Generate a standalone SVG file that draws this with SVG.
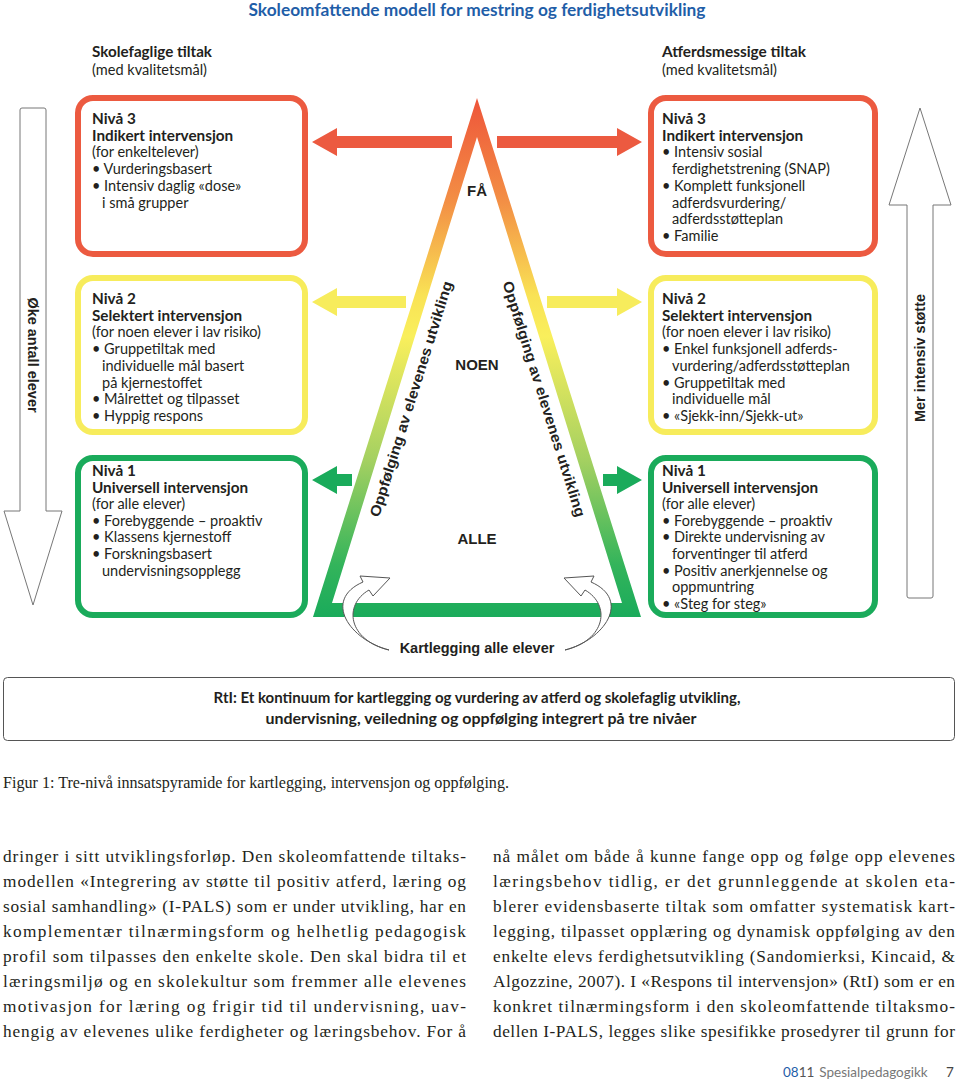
<svg xmlns="http://www.w3.org/2000/svg" width="960" height="1081" viewBox="0 0 960 1081">
<style>
.bx{font-family:Lato,"Open Sans",sans-serif;font-size:14.5px;fill:#231f20}
.b{font-weight:700;font-size:15.3px}
.hd{font-family:Lato,sans-serif;font-weight:700;fill:#231f20}
.lb{font-family:"Liberation Sans",Arial,sans-serif;font-weight:700;fill:#231f20}
.body{font-family:"Liberation Serif","Times New Roman",serif;font-size:17.3px;fill:#231f20}
.red{fill:none;stroke:#ec5a40;stroke-width:6}
.yel{fill:none;stroke:#f7ec5c;stroke-width:6}
.grn{fill:none;stroke:#1aab5b;stroke-width:6}
.side{fill:#fff;stroke:#777;stroke-width:1}
.curl{fill:#fff;stroke:#555;stroke-width:1}
</style>
<defs>
<linearGradient id="tg" gradientUnits="userSpaceOnUse" x1="0" y1="98" x2="0" y2="617">
<stop offset="0" stop-color="#ee553a"/>
<stop offset="0.2" stop-color="#f38f45"/>
<stop offset="0.38" stop-color="#f9e255"/>
<stop offset="0.46" stop-color="#f9ef5c"/>
<stop offset="0.7" stop-color="#a3d061"/>
<stop offset="0.9" stop-color="#33b45b"/>
<stop offset="1" stop-color="#1aab5b"/>
</linearGradient>
</defs>
<rect width="960" height="1081" fill="#fff"/>

<text x="477" y="16" text-anchor="middle" class="hd" font-size="16.5" style="fill:#1f5ea8" textLength="457" lengthAdjust="spacingAndGlyphs">Skoleomfattende modell for mestring og ferdighetsutvikling</text>

<g id="head-left">
<text x="92" y="57" class="hd" font-size="15" textLength="120" lengthAdjust="spacingAndGlyphs">Skolefaglige tiltak</text>
<text x="92" y="75" class="bx" font-size="14" textLength="115" lengthAdjust="spacingAndGlyphs">(med kvalitetsmål)</text>
</g>
<g id="head-right">
<text x="662" y="57" class="hd" font-size="15" textLength="144" lengthAdjust="spacingAndGlyphs">Atferdsmessige tiltak</text>
<text x="662" y="75" class="bx" font-size="14" textLength="115" lengthAdjust="spacingAndGlyphs">(med kvalitetsmål)</text>
</g>

<g id="arrow-left">
<path class="side" d="M22,108 H44 Q46,108 46,110 V511 H62 L33,605 L4,511 H20 V110 Q20,108 22,108 Z"/>
<text class="lb" font-size="14.5" transform="translate(33,355) rotate(90)" text-anchor="middle" dominant-baseline="central">Øke antall elever</text>
</g>
<g id="arrow-right">
<path class="side" d="M909,598 H931 Q933,598 933,596 V205 H951 L920,108 L889,205 H907 V596 Q907,598 909,598 Z"/>
<text class="lb" font-size="14.5" transform="translate(920,358) rotate(-90)" text-anchor="middle" dominant-baseline="central">Mer intensiv støtte</text>
</g>

<g id="pyramid">
<path fill="url(#tg)" fill-rule="evenodd" d="M477,98 L641,617 L313,617 Z M477,137 L332,603 L622,603 Z"/>
<text x="477" y="196" text-anchor="middle" class="lb" font-size="15">FÅ</text>
<text x="477" y="370" text-anchor="middle" class="lb" font-size="15">NOEN</text>
<text x="477" y="544" text-anchor="middle" class="lb" font-size="15">ALLE</text>
<text class="lb" font-size="14.5" text-anchor="middle" dominant-baseline="central" transform="translate(411,399) rotate(-72.6)" textLength="246" lengthAdjust="spacingAndGlyphs">Oppfølging av elevenes utvikling</text>
<text class="lb" font-size="14.5" text-anchor="middle" dominant-baseline="central" transform="translate(544,399) rotate(72.6)" textLength="246" lengthAdjust="spacingAndGlyphs">Oppfølging av elevenes utvikling</text>
</g>

<g id="connectors">
<polygon fill="#ec5a40" points="312,142 337,128 337,136 452,136 452,148 337,148 337,156"/>
<polygon fill="#ec5a40" points="497,136 617,136 617,128 642,142 617,156 617,148 497,148"/>
<polygon fill="#f7ec5c" points="312,302 337,288 337,296 406,296 406,308 337,308 337,316"/>
<polygon fill="#f7ec5c" points="547,296 617,296 617,288 642,302 617,316 617,308 547,308"/>
<polygon fill="#1aab5b" points="312,480 337,466 337,474 352,474 352,486 337,486 337,494"/>
<polygon fill="#1aab5b" points="603,474 617,474 617,466 642,480 617,494 617,486 603,486"/>
<path id="curl-left" class="curl" d="M389,650 C350,640 322,600 363,582 L360,576 L390,578 L373,596 L369,590 C343,605 348,640 389,650 Z"/>
<path id="curl-right" class="curl" transform="translate(954,0) scale(-1,1)" d="M389,650 C350,640 322,600 363,582 L360,576 L390,578 L373,596 L369,590 C343,605 348,640 389,650 Z"/>
</g>
<text x="477" y="653" text-anchor="middle" class="lb" font-size="14.5">Kartlegging alle elever</text>

<g id="n3-left">
<rect class="red" x="78" y="98" width="227" height="156" rx="15"/>
<text class="bx"><tspan x="92" y="124" class="b">Nivå 3</tspan><tspan x="92" y="140.7" class="b">Indikert intervensjon</tspan><tspan x="92" y="157.4">(for enkeltelever)</tspan><tspan x="92" y="174.1">• Vurderingsbasert</tspan><tspan x="92" y="190.8">• Intensiv daglig «dose»</tspan><tspan x="102" y="207.5">i små grupper</tspan></text>
</g>
<g id="n3-right">
<rect class="red" x="651" y="98" width="224" height="156" rx="15"/>
<text class="bx"><tspan x="662" y="124" class="b">Nivå 3</tspan><tspan x="662" y="140.7" class="b">Indikert intervensjon</tspan><tspan x="662" y="157.4">• Intensiv sosial</tspan><tspan x="672" y="174.1">ferdighetstrening (SNAP)</tspan><tspan x="662" y="190.8">• Komplett funksjonell</tspan><tspan x="672" y="207.5">adferdsvurdering/</tspan><tspan x="672" y="224.2">adferdsstøtteplan</tspan><tspan x="662" y="240.9">• Familie</tspan></text>
</g>
<g id="n2-left">
<rect class="yel" x="78" y="278" width="227" height="154" rx="15"/>
<text class="bx"><tspan x="92" y="304" class="b">Nivå 2</tspan><tspan x="92" y="320.7" class="b">Selektert intervensjon</tspan><tspan x="92" y="337.4">(for noen elever i lav risiko)</tspan><tspan x="92" y="354.1">• Gruppetiltak med</tspan><tspan x="102" y="370.8">individuelle mål basert</tspan><tspan x="102" y="387.5">på kjernestoffet</tspan><tspan x="92" y="404.2">• Målrettet og tilpasset</tspan><tspan x="92" y="420.9">• Hyppig respons</tspan></text>
</g>
<g id="n2-right">
<rect class="yel" x="651" y="278" width="224" height="154" rx="15"/>
<text class="bx"><tspan x="662" y="304" class="b">Nivå 2</tspan><tspan x="662" y="320.7" class="b">Selektert intervensjon</tspan><tspan x="662" y="337.4">(for noen elever i lav risiko)</tspan><tspan x="662" y="354.1">• Enkel funksjonell adferds-</tspan><tspan x="672" y="370.8">vurdering/adferdsstøtteplan</tspan><tspan x="662" y="387.5">• Gruppetiltak med</tspan><tspan x="672" y="404.2">individuelle mål</tspan><tspan x="662" y="420.9">• «Sjekk-inn/Sjekk-ut»</tspan></text>
</g>
<g id="n1-left">
<rect class="grn" x="78" y="458" width="227" height="157" rx="15"/>
<text class="bx"><tspan x="92" y="476" class="b">Nivå 1</tspan><tspan x="92" y="492.6" class="b">Universell intervensjon</tspan><tspan x="92" y="509.2">(for alle elever)</tspan><tspan x="92" y="525.8">• Forebyggende – proaktiv</tspan><tspan x="92" y="542.4">• Klassens kjernestoff</tspan><tspan x="92" y="559">• Forskningsbasert</tspan><tspan x="102" y="575.6">undervisningsopplegg</tspan></text>
</g>
<g id="n1-right">
<rect class="grn" x="651" y="458" width="224" height="157" rx="15"/>
<text class="bx"><tspan x="662" y="476" class="b">Nivå 1</tspan><tspan x="662" y="492.6" class="b">Universell intervensjon</tspan><tspan x="662" y="509.2">(for alle elever)</tspan><tspan x="662" y="525.8">• Forebyggende – proaktiv</tspan><tspan x="662" y="542.4">• Direkte undervisning av</tspan><tspan x="672" y="559">forventinger til atferd</tspan><tspan x="662" y="575.6">• Positiv anerkjennelse og</tspan><tspan x="672" y="592.2">oppmuntring</tspan><tspan x="662" y="608.8">• «Steg for steg»</tspan></text>
</g>

<g id="rti">
<rect x="3.5" y="677.5" width="951" height="63" rx="4" fill="#fff" stroke="#555" stroke-width="1"/>
<text x="477" y="703" text-anchor="middle" class="hd" font-size="15" textLength="527" lengthAdjust="spacingAndGlyphs">RtI: Et kontinuum for kartlegging og vurdering av atferd og skolefaglig utvikling,</text>
<text x="481" y="724" text-anchor="middle" class="hd" font-size="15" textLength="431" lengthAdjust="spacingAndGlyphs">undervisning, veiledning og oppfølging integrert på tre nivåer</text>
</g>

<text x="3" y="788" class="body" font-size="15" textLength="506" lengthAdjust="spacingAndGlyphs">Figur 1: Tre-nivå innsatspyramide for kartlegging, intervensjon og oppfølging.</text>

<g class="body">
<text x="3" y="862" textLength="463" lengthAdjust="spacing">dringer i sitt utviklingsforløp. Den skoleomfattende tiltaks-</text>
<text x="3" y="887" textLength="463" lengthAdjust="spacing">modellen «Integrering av støtte til positiv atferd, læring og</text>
<text x="3" y="912" textLength="463" lengthAdjust="spacing">sosial samhandling» (I-PALS) som er under utvikling, har en</text>
<text x="3" y="937" textLength="463" lengthAdjust="spacing">komplementær tilnærmingsform og helhetlig pedagogisk</text>
<text x="3" y="962" textLength="463" lengthAdjust="spacing">profil som tilpasses den enkelte skole. Den skal bidra til et</text>
<text x="3" y="987" textLength="463" lengthAdjust="spacing">læringsmiljø og en skolekultur som fremmer alle elevenes</text>
<text x="3" y="1012" textLength="463" lengthAdjust="spacing">motivasjon for læring og frigir tid til undervisning, uav-</text>
<text x="3" y="1037" textLength="463" lengthAdjust="spacing">hengig av elevenes ulike ferdigheter og læringsbehov. For å</text>
<text x="493" y="862" textLength="462" lengthAdjust="spacing">nå målet om både å kunne fange opp og følge opp elevenes</text>
<text x="493" y="887" textLength="462" lengthAdjust="spacing">læringsbehov tidlig, er det grunnleggende at skolen eta-</text>
<text x="493" y="912" textLength="462" lengthAdjust="spacing">blerer evidensbaserte tiltak som omfatter systematisk kart-</text>
<text x="493" y="937" textLength="462" lengthAdjust="spacing">legging, tilpasset opplæring og dynamisk oppfølging av den</text>
<text x="493" y="962" textLength="462" lengthAdjust="spacing">enkelte elevs ferdighetsutvikling (Sandomierksi, Kincaid, &amp;</text>
<text x="493" y="987" textLength="462" lengthAdjust="spacing">Algozzine, 2007). I «Respons til intervensjon» (RtI) som er en</text>
<text x="493" y="1012" textLength="462" lengthAdjust="spacing">konkret tilnærmingsform i den skoleomfattende tiltaksmo-</text>
<text x="493" y="1037" textLength="462" lengthAdjust="spacing">dellen I-PALS, legges slike spesifikke prosedyrer til grunn for</text>
</g>

<g id="footer" font-family="Lato,sans-serif" font-size="13.5">
<text x="783" y="1077"><tspan fill="#1f5ea8">08</tspan><tspan fill="#555">11</tspan><tspan fill="#777" dx="5">Spesialpedagogikk</tspan></text>
<text x="946" y="1077" fill="#444">7</text>
</g>
</svg>
